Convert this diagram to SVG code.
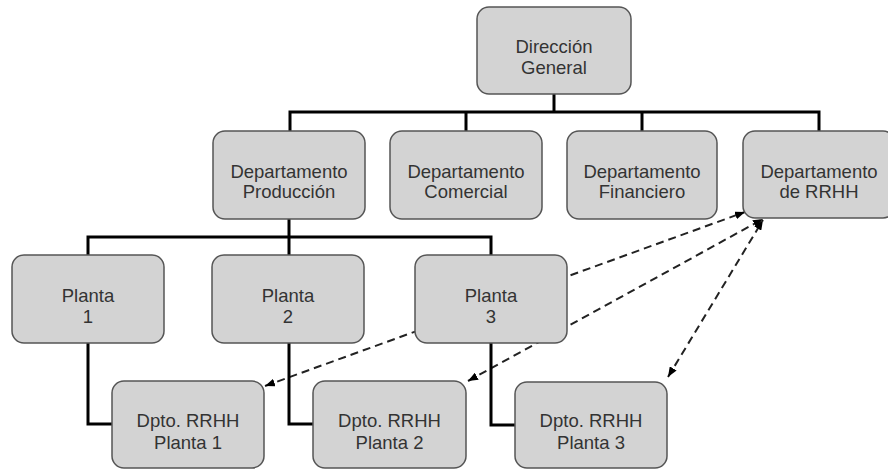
<svg xmlns="http://www.w3.org/2000/svg" width="888" height="470" viewBox="0 0 888 470">
  <defs>
    <style>
      .box { fill: #d3d3d3; stroke: #555555; stroke-width: 1.5; }
      .lbl { font-family: "Liberation Sans", Arial, sans-serif; font-size: 18.5px; fill: #333333; text-anchor: middle; }
      .tree { fill: none; stroke: #000000; stroke-width: 3; stroke-linejoin: miter; }
      .dash { fill: none; stroke: #222222; stroke-width: 2; stroke-dasharray: 8 5; }
    </style>
    <marker id="arrow" viewBox="0 0 10 8" refX="10" refY="4" markerWidth="10" markerHeight="8" markerUnits="userSpaceOnUse" orient="auto-start-reverse">
      <path d="M0,0 L10,4 L0,8 z" fill="#000000"/>
    </marker>
  </defs>

  <!-- connectors -->
  <g id="connectors">
    <!-- dotted relations with the HR department (drawn first, boxes cover them) -->
    <line class="dash" x1="265" y1="386" x2="745" y2="212" marker-start="url(#arrow)" marker-end="url(#arrow)"/>
    <line class="dash" x1="468" y1="381" x2="763" y2="219" marker-start="url(#arrow)" marker-end="url(#arrow)"/>
    <line class="dash" x1="668" y1="377" x2="763" y2="220" marker-start="url(#arrow)" marker-end="url(#arrow)"/>

    <!-- top level -->
    <path class="tree" d="M554,94 V112"/>
    <path class="tree" d="M290,131 V112 H819 V131"/>
    <path class="tree" d="M466,112 V131"/>
    <path class="tree" d="M642,112 V131"/>

    <!-- production plants -->
    <path class="tree" d="M289,219 V237"/>
    <path class="tree" d="M88,255 V237 H491 V255"/>
    <path class="tree" d="M289,237 V255"/>

    <!-- plant HR units -->
    <path class="tree" d="M88,343 V424 H112"/>
    <path class="tree" d="M289,343 V424 H313"/>
    <path class="tree" d="M491,343 V425 H515"/>
  </g>

  <g id="direccion-general">
    <rect class="box" x="477" y="7" width="154" height="87" rx="12"/>
    <text class="lbl" x="554" y="53">Dirección<tspan x="554" dy="21">General</tspan></text>
  </g>

  <g id="dep-produccion">
    <rect class="box" x="213" y="131" width="152" height="88" rx="12"/>
    <text class="lbl" x="289" y="178">Departamento<tspan x="289" dy="20">Producción</tspan></text>
  </g>
  <g id="dep-comercial">
    <rect class="box" x="390" y="131" width="152" height="88" rx="12"/>
    <text class="lbl" x="466" y="178">Departamento<tspan x="466" dy="20">Comercial</tspan></text>
  </g>
  <g id="dep-financiero">
    <rect class="box" x="567" y="131" width="150" height="88" rx="12"/>
    <text class="lbl" x="642" y="178">Departamento<tspan x="642" dy="20">Financiero</tspan></text>
  </g>
  <g id="dep-rrhh">
    <rect class="box" x="743" y="131" width="152" height="87" rx="12"/>
    <text class="lbl" x="819" y="178">Departamento<tspan x="819" dy="20">de RRHH</tspan></text>
  </g>

  <g id="planta-1">
    <rect class="box" x="12" y="255" width="152" height="88" rx="12"/>
    <text class="lbl" x="88" y="302">Planta<tspan x="88" dy="21">1</tspan></text>
  </g>
  <g id="planta-2">
    <rect class="box" x="212" y="255" width="152" height="88" rx="12"/>
    <text class="lbl" x="288" y="302">Planta<tspan x="288" dy="21">2</tspan></text>
  </g>
  <g id="planta-3">
    <rect class="box" x="415" y="255" width="152" height="88" rx="12"/>
    <text class="lbl" x="491" y="302">Planta<tspan x="491" dy="21">3</tspan></text>
  </g>

  <g id="rrhh-planta-1">
    <rect class="box" x="112" y="381" width="152" height="87" rx="12"/>
    <text class="lbl" x="188" y="427">Dpto. RRHH<tspan x="188" dy="22">Planta 1</tspan></text>
  </g>
  <g id="rrhh-planta-2">
    <rect class="box" x="313" y="381" width="153" height="87" rx="12"/>
    <text class="lbl" x="389.5" y="427">Dpto. RRHH<tspan x="389.5" dy="22">Planta 2</tspan></text>
  </g>
  <g id="rrhh-planta-3">
    <rect class="box" x="515" y="382" width="152" height="86" rx="12"/>
    <text class="lbl" x="591" y="427">Dpto. RRHH<tspan x="591" dy="22">Planta 3</tspan></text>
  </g>
</svg>
